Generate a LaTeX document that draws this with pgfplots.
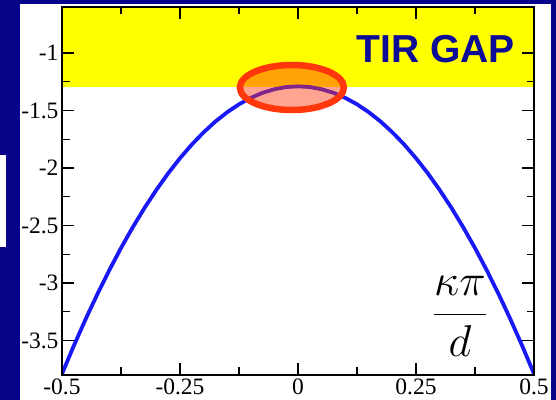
\documentclass[border=0pt]{standalone}
\usepackage{pgfplots}
\pgfplotsset{compat=1.18}
\usepackage{fontspec}
\setmainfont{Liberation Serif}
\newfontfamily\labelsans{Liberation Sans}

\definecolor{slidebg}{RGB}{8,4,138}
\definecolor{gaptext}{RGB}{12,12,150}
\definecolor{bandblue}{RGB}{25,25,245}
\definecolor{ringred}{RGB}{255,55,10}
\definecolor{gapyellow}{RGB}{255,255,0}

\begin{document}
\begin{tikzpicture}
% slide background and white panel behind the plot
\fill[slidebg] (0,0) rectangle (556bp,400bp);
\fill[white] (20bp,0) rectangle (551bp,396bp);
\fill[white] (0,153bp) rectangle (6bp,245bp);

\begin{axis}[
  at={(62bp,25bp)}, anchor=south west,
  scale only axis, width=472bp, height=368bp,
  xmin=-0.5, xmax=0.5, ymin=-3.8, ymax=-0.6,
  xtick={-0.5,-0.25,0,0.25,0.5},
  ytick={-3.5,-3,-2.5,-2,-1.5,-1},
  minor tick num=1,
  major tick length=12bp, minor tick length=7.5bp,
  tick style={black, line width=1.3bp},
  axis line style={black, line width=1.6bp},
  axis on top,
  tick label style={font=\fontsize{23.5bp}{24bp}\selectfont},
  /pgf/number format/assume math mode=true,
  /pgf/number format/fixed,
]

% total internal reflection gap
\addplot[fill=gapyellow, draw=none]
  coordinates {(-0.5,-1.3) (0.5,-1.3) (0.5,-0.6) (-0.5,-0.6)} -- cycle;

% guided band
\addplot[bandblue, line width=3.8bp] coordinates {
  (-0.500,-3.790) (-0.475,-3.546) (-0.450,-3.315) (-0.425,-3.096)
  (-0.400,-2.890) (-0.375,-2.696) (-0.350,-2.515) (-0.325,-2.346)
  (-0.300,-2.190) (-0.275,-2.046) (-0.250,-1.915) (-0.225,-1.796)
  (-0.200,-1.690) (-0.175,-1.596) (-0.150,-1.515) (-0.125,-1.446)
  (-0.100,-1.390) (-0.075,-1.346) (-0.050,-1.315) (-0.025,-1.296)
  (0.000,-1.290)
  (0.025,-1.296) (0.050,-1.315) (0.075,-1.346) (0.100,-1.390)
  (0.125,-1.446) (0.150,-1.515) (0.175,-1.596) (0.200,-1.690)
  (0.225,-1.796) (0.250,-1.915) (0.275,-2.046) (0.300,-2.190)
  (0.325,-2.346) (0.350,-2.515) (0.375,-2.696) (0.400,-2.890)
  (0.425,-3.096) (0.450,-3.315) (0.475,-3.546) (0.500,-3.790)
};

% highlight of the band edge touching the gap
\draw[ringred, line width=6.5bp, fill=ringred, fill opacity=0.45]
  (axis cs:-0.013,-1.30) ellipse [x radius=52bp, y radius=22.5bp];

\node[font=\labelsans\bfseries\fontsize{39bp}{40bp}\selectfont, text=gaptext]
  at (axis cs:0.292,-0.965) {TIR GAP};

% Huge math is capped at 24.88pt, so the fraction is scaled up as a node
\node[font=\Huge, scale=1.8, inner sep=0.5bp]
  at (axis cs:0.343,-3.29) {$\displaystyle\frac{\kappa\pi}{d}$};
\end{axis}
\end{tikzpicture}
\end{document}
